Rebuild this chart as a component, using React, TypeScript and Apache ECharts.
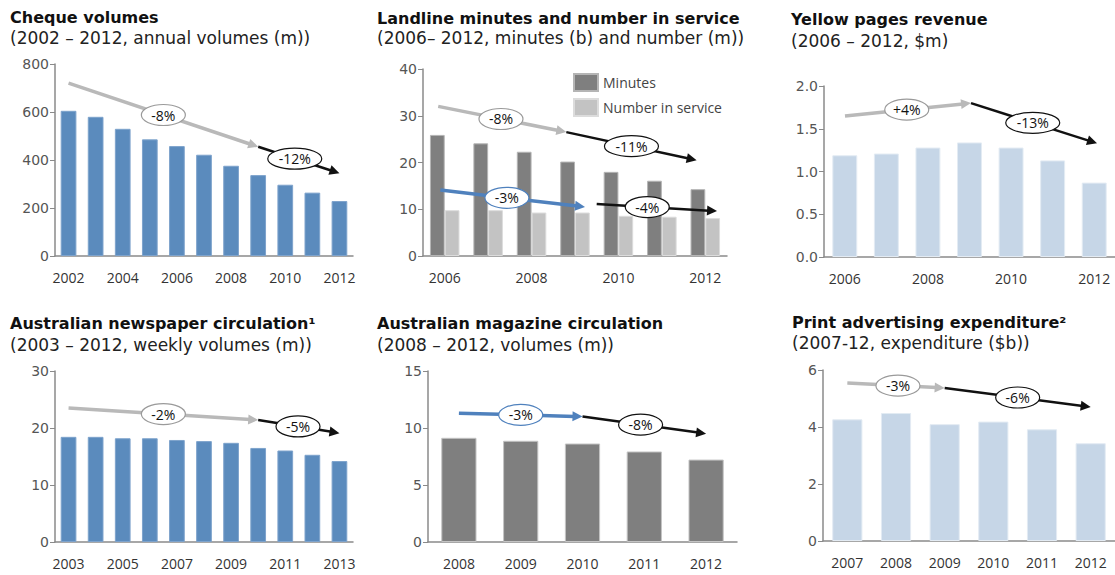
import React, { useEffect, useRef } from "react";
import * as echarts from "echarts";

// ---------------- data ----------------
const chequeYears = ["2002", "2003", "2004", "2005", "2006", "2007", "2008", "2009", "2010", "2011", "2012"];
const chequeVolumes = [605, 580, 530, 486, 458, 422, 376, 337, 297, 264, 229];

const landlineYears = ["2006", "2007", "2008", "2009", "2010", "2011", "2012"];
const landlineMinutes = [25.9, 24.1, 22.3, 20.2, 18.0, 16.1, 14.3];
const landlineNumber = [9.8, 9.8, 9.3, 9.3, 8.6, 8.4, 8.1];

const yellowYears = ["2006", "2007", "2008", "2009", "2010", "2011", "2012"];
const yellowRevenue = [1.19, 1.21, 1.28, 1.34, 1.28, 1.13, 0.87];

const newsYears = ["2003", "2004", "2005", "2006", "2007", "2008", "2009", "2010", "2011", "2012", "2013"];
const newsCirculation = [18.45, 18.45, 18.2, 18.2, 17.9, 17.7, 17.4, 16.5, 16.05, 15.3, 14.2];

const magYears = ["2008", "2009", "2010", "2011", "2012"];
const magCirculation = [9.14, 8.88, 8.64, 7.94, 7.23];

const printYears = ["2007", "2008", "2009", "2010", "2011", "2012"];
const printExpenditure = [4.27, 4.49, 4.1, 4.19, 3.92, 3.43];

const titles = [
  "Cheque volumes",
  "Landline minutes and number in service",
  "Yellow pages revenue",
  "Australian newspaper circulation\u00b9",
  "Australian magazine circulation",
  "Print advertising expenditure\u00b2",
];
const subtitles = [
  "(2002 \u2013 2012, annual volumes (m))",
  "(2006\u2013 2012, minutes (b) and number (m))",
  "(2006 \u2013 2012, $m)",
  "(2003 \u2013 2012, weekly volumes (m))",
  "(2008 \u2013 2012, volumes (m))",
  "(2007-12, expenditure ($b))",
];

// trend annotations in data units: [category position, value]
type Seg = { from: [number, number]; to: [number, number]; kind: "gray" | "black" | "blue"; label: string; t: number };
const trends: Seg[][] = [
  [
    { from: [0, 720], to: [7, 455], kind: "gray", label: "-8%", t: 0.5 },
    { from: [7, 455], to: [10, 345], kind: "black", label: "-12%", t: 0.45 },
  ],
  [
    { from: [-0.15, 32], to: [2.8, 26.5], kind: "gray", label: "-8%", t: 0.49 },
    { from: [2.8, 26.5], to: [5.8, 20.5], kind: "black", label: "-11%", t: 0.5 },
    { from: [-0.1, 14.1], to: [3.23, 10.5], kind: "blue", label: "-3%", t: 0.46 },
    { from: [3.5, 11.1], to: [6.27, 9.6], kind: "black", label: "-4%", t: 0.42 },
  ],
  [
    { from: [0, 1.65], to: [3, 1.8], kind: "gray", label: "+4%", t: 0.49 },
    { from: [3, 1.8], to: [6, 1.33], kind: "black", label: "-13%", t: 0.49 },
  ],
  [
    { from: [0, 23.5], to: [7, 21.4], kind: "gray", label: "-2%", t: 0.5 },
    { from: [7, 21.4], to: [10, 19.1], kind: "black", label: "-5%", t: 0.49 },
  ],
  [
    { from: [0, 11.3], to: [2, 11.0], kind: "blue", label: "-3%", t: 0.5 },
    { from: [2, 11.0], to: [4, 9.5], kind: "black", label: "-8%", t: 0.47 },
  ],
  [
    { from: [0, 5.54], to: [2, 5.37], kind: "gray", label: "-3%", t: 0.52 },
    { from: [2, 5.37], to: [5, 4.7], kind: "black", label: "-6%", t: 0.5 },
  ],
];

// ---------------- layout ----------------
const grids = [
  { left: 55, top: 64, width: 298, height: 192 },
  { left: 423, top: 69, width: 304, height: 187 },
  { left: 824, top: 86, width: 294, height: 171 },
  { left: 55, top: 371, width: 298, height: 171 },
  { left: 428, top: 371, width: 309, height: 171 },
  { left: 823, top: 370, width: 292, height: 171 },
];
const yRanges = [
  { min: 0, max: 800, interval: 200 },
  { min: 0, max: 40, interval: 10 },
  { min: 0, max: 2, interval: 0.5 },
  { min: 0, max: 30, interval: 10 },
  { min: 0, max: 15, interval: 5 },
  { min: 0, max: 6, interval: 2 },
];
const cats = [chequeYears, landlineYears, yellowYears, newsYears, magYears, printYears];
const titlePos = [
  { x: 10, y: 17, sy: 38 },
  { x: 377, y: 18, sy: 38 },
  { x: 791, y: 19, sy: 41 },
  { x: 10, y: 323, sy: 345 },
  { x: 377, y: 323, sy: 345 },
  { x: 792, y: 322, sy: 343 },
];

const FONT = "'Open Sans', 'Noto Sans', sans-serif";
const TFONT = "'DejaVu Sans', 'Open Sans', sans-serif";
const AXIS = "#8a8a8a";
const colors = { gray: "#b9b9b9", black: "#111111", blue: "#4f81bd" };
const ellStroke = { gray: "#9a9a9a", black: "#111111", blue: "#4f81bd" };

function toPx(p: number, i: number, v: number): [number, number] {
  const g = grids[p];
  const n = cats[p].length;
  const r = yRanges[p];
  return [g.left + ((i + 0.5) * g.width) / n, g.top + g.height * (1 - (v - r.min) / (r.max - r.min))];
}

function buildGraphics() {
  const els: any[] = [];
  titles.forEach((t, k) => {
    const tp = titlePos[k];
    els.push({
      type: "text",
      x: tp.x,
      y: tp.y,
      z: 20,
      style: { text: t, fill: "#111", font: `bold 16px ${TFONT}`, align: "left", verticalAlign: "middle" },
    });
    els.push({
      type: "text",
      x: tp.x,
      y: tp.sy,
      z: 20,
      style: { text: subtitles[k], fill: "#222", font: `17px ${TFONT}`, align: "left", verticalAlign: "middle" },
    });
  });
  const labels: any[] = [];
  trends.forEach((segs, p) => {
    segs.forEach((s) => {
      const [x1, y1] = toPx(p, s.from[0], s.from[1]);
      const [x2, y2] = toPx(p, s.to[0], s.to[1]);
      const dx = x2 - x1;
      const dy = y2 - y1;
      const len = Math.sqrt(dx * dx + dy * dy);
      const ux = dx / len;
      const uy = dy / len;
      const L = 10;
      const W = 5;
      const bx = x2 - ux * L;
      const by = y2 - uy * L;
      const col = colors[s.kind];
      const lw = s.kind === "black" ? 2.5 : 3.5;
      els.push({
        type: "line",
        z: 10,
        shape: { x1, y1, x2: bx + ux * 2, y2: by + uy * 2 },
        style: { stroke: col, lineWidth: lw },
      });
      els.push({
        type: "polygon",
        z: 10,
        shape: {
          points: [
            [x2, y2],
            [bx - uy * W, by + ux * W],
            [bx + uy * W, by - ux * W],
          ],
        },
        style: { fill: col },
      });
      const cx = x1 + dx * s.t;
      const cy = y1 + dy * s.t;
      const rx = s.label.length * 5 + 7;
      labels.push({
        type: "ellipse",
        z: 11,
        shape: { cx, cy, rx, ry: 10.5 },
        style: { fill: "#ffffff", stroke: ellStroke[s.kind], lineWidth: 1.2 },
      });
      labels.push({
        type: "text",
        z: 12,
        x: cx,
        y: cy,
        style: { text: s.label, fill: "#111", font: `14px ${FONT}`, align: "center", verticalAlign: "middle" },
      });
    });
  });
  return els.concat(labels);
}

function barStyle(color: string, border: string) {
  return { color, borderColor: border, borderWidth: 1 };
}

export default function App() {
  const ref = useRef<HTMLDivElement>(null);
  useEffect(() => {
    if (!ref.current) return;
    const chart = echarts.init(ref.current, undefined, { renderer: "svg" });
    const labelIntervals = [1, 1, 1, 1, 0, 0];
    const xAxis = grids.map((_, k) => ({
      type: "category",
      gridIndex: k,
      data: cats[k],
      axisLine: { show: true, lineStyle: { color: AXIS, width: 1.5 } },
      axisTick: { show: false },
      axisLabel: {
        interval: labelIntervals[k],
        color: "#333",
        fontSize: 14,
        fontFamily: FONT,
        margin: 14,
      },
    }));
    const yAxis = grids.map((_, k) => ({
      type: "value",
      gridIndex: k,
      min: yRanges[k].min,
      max: yRanges[k].max,
      interval: yRanges[k].interval,
      splitLine: { show: false },
      axisLine: { show: true, lineStyle: { color: AXIS, width: 1.5 } },
      axisTick: { show: true, length: 5, lineStyle: { color: AXIS } },
      axisLabel: {
        color: "#555",
        fontSize: 14,
        fontFamily: TFONT,
        margin: 6,
        formatter: k === 2 ? (v: number) => v.toFixed(1) : undefined,
      },
    }));
    const option: any = {
      animation: false,
      backgroundColor: "#ffffff",
      grid: grids.map((g) => ({ ...g, containLabel: false })),
      xAxis,
      yAxis,
      legend: {
        data: ["Minutes", "Number in service"],
        orient: "vertical",
        left: 568,
        top: 68,
        itemWidth: 24,
        itemHeight: 17,
        itemGap: 6,
        icon: "rect",
        textStyle: { color: "#444", fontSize: 14, fontFamily: FONT },
      },
      series: [
        {
          type: "bar",
          xAxisIndex: 0,
          yAxisIndex: 0,
          data: chequeVolumes,
          barWidth: "58%",
          itemStyle: barStyle("#5b8bbd", "#7ea3cc"),
        },
        {
          name: "Minutes",
          type: "bar",
          xAxisIndex: 1,
          yAxisIndex: 1,
          data: landlineMinutes,
          barWidth: "34%",
          barGap: "0%",
          itemStyle: barStyle("#7f7f7f", "#b5b5b5"),
        },
        {
          name: "Number in service",
          type: "bar",
          xAxisIndex: 1,
          yAxisIndex: 1,
          data: landlineNumber,
          barWidth: "34%",
          barGap: "0%",
          itemStyle: barStyle("#c3c3c3", "#dcdcdc"),
        },
        {
          type: "bar",
          xAxisIndex: 2,
          yAxisIndex: 2,
          data: yellowRevenue,
          barWidth: "60%",
          itemStyle: barStyle("#c6d6e7", "#e3ebf3"),
        },
        {
          type: "bar",
          xAxisIndex: 3,
          yAxisIndex: 3,
          data: newsCirculation,
          barWidth: "58%",
          itemStyle: barStyle("#5b8bbd", "#7ea3cc"),
        },
        {
          type: "bar",
          xAxisIndex: 4,
          yAxisIndex: 4,
          data: magCirculation,
          barWidth: "57%",
          itemStyle: barStyle("#7f7f7f", "#c4c4c4"),
        },
        {
          type: "bar",
          xAxisIndex: 5,
          yAxisIndex: 5,
          data: printExpenditure,
          barWidth: "62%",
          itemStyle: barStyle("#c6d6e7", "#e3ebf3"),
        },
      ],
      graphic: { elements: buildGraphics() },
    };
    chart.setOption(option);
    return () => chart.dispose();
  }, []);
  return (
    <div
      ref={ref}
      style={{ position: "fixed", left: 0, top: 0, width: 1115, height: 575, background: "#fff" }}
    />
  );
}
